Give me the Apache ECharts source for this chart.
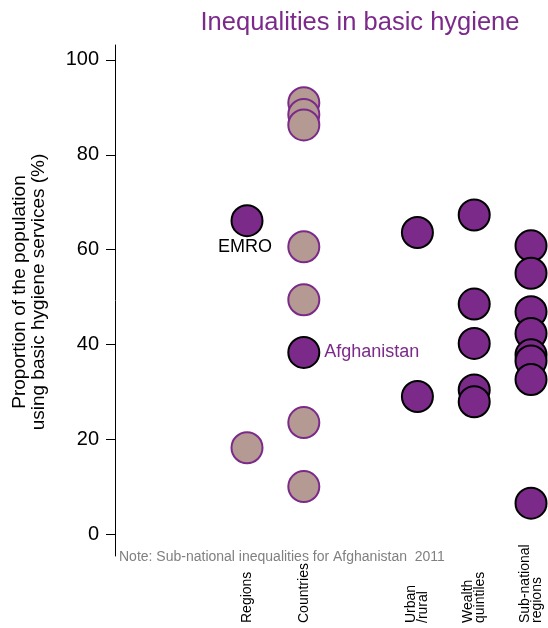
<!DOCTYPE html>
<html>
<head>
<meta charset="utf-8">
<script src="https://cdn.jsdelivr.net/npm/echarts@6/dist/echarts.min.js"></script>
<style>
html,body{margin:0;padding:0;background:#fff;}
#chart{width:548px;height:628px;}
</style>
</head>
<body>
<div id="chart"></div>
<script>
// ---- data ----
const categoryLabels = ['Regions', 'Countries', 'Urban\n/rural', 'Wealth\nquintiles', 'Sub-national\nregions'];
const categorySlots = [3, 4, 6, 7, 8];
const yTickValues = [0, 20, 40, 60, 80, 100];

const regionName = 'EMRO';
const regionValue = 66.1;
const otherRegionValues = [18.2];

const countryName = 'Afghanistan';
const countryValue = 38.3;
const otherCountryValues = [91.0, 88.5, 86.3, 60.6, 49.4, 23.5, 10.0];

const urbanRuralValues = [63.6, 29.0];
const wealthValues = [67.3, 48.5, 40.2, 30.4, 27.9];
const subnationalValues = [60.8, 55.0, 46.9, 42.3, 37.8, 36.5, 32.6, 6.5];

const titleText = 'Inequalities in basic hygiene';
const yAxisTitle = 'Proportion of the population\nusing basic hygiene services (%)';
const noteText = 'Note: Sub-national inequalities for Afghanistan  2011';

// ---- styles ----
const PURPLE = '#7B2A8A';
const TAN = '#B49A92';
const FONT = 'Liberation Sans, Arial, sans-serif';

const purpleStyle = { color: PURPLE, borderColor: '#000', borderWidth: 2, opacity: 1 };
const tanStyle = { color: TAN, borderColor: PURPLE, borderWidth: 2, opacity: 1 };

function pts(slotIdx, vals) { return vals.map(v => [categorySlots[slotIdx], v]); }

const chart = echarts.init(document.getElementById('chart'), null, { renderer: 'canvas' });

const option = {
  animation: false,
  backgroundColor: '#fff',
  textStyle: { fontFamily: FONT },
  grid: { left: 115, right: 0, top: 45, bottom: 72, containLabel: false },
  xAxis: {
    type: 'value',
    min: 0.676,
    max: 8.299,
    axisLine: { show: false },
    axisTick: { show: false },
    splitLine: { show: false },
    axisLabel: {
      customValues: categorySlots,
      formatter: function (v) {
        const i = categorySlots.indexOf(v);
        return i >= 0 ? categoryLabels[i] : '';
      },
      rotate: 90,
      align: 'left',
      verticalAlign: 'middle',
      margin: 67,
      fontSize: 14,
      lineHeight: 12,
      color: '#000',
      fontFamily: FONT
    }
  },
  yAxis: {
    type: 'value',
    min: -4.64,
    max: 103.16,
    splitLine: { show: false },
    axisLine: { show: true, lineStyle: { color: '#000', width: 1 } },
    axisTick: { show: true, customValues: yTickValues, length: 9, lineStyle: { color: '#000', width: 1 } },
    axisLabel: { customValues: yTickValues, fontSize: 20, color: '#000', margin: 16, fontFamily: FONT }
  },
  graphic: [
    {
      type: 'text', x: 360, y: 23,
      style: { text: titleText, font: '25.5px ' + FONT, fill: PURPLE, textAlign: 'center', textVerticalAlign: 'middle' }
    },
    {
      type: 'text', x: 29, y: 292, rotation: Math.PI / 2,
      style: { text: yAxisTitle, font: '19px ' + FONT, lineHeight: 19, fill: '#000', textAlign: 'center', textVerticalAlign: 'middle' }
    },
    {
      type: 'text', x: 119, y: 557,
      style: { text: noteText, font: '14px ' + FONT, fill: '#808080', textAlign: 'left', textVerticalAlign: 'middle' }
    }
  ],
  series: [
    {
      type: 'scatter', name: 'Other regions', symbolSize: 31, clip: false,
      itemStyle: tanStyle, data: pts(0, otherRegionValues), z: 2
    },
    {
      type: 'scatter', name: 'Other countries', symbolSize: 31, clip: false,
      itemStyle: tanStyle, data: pts(1, otherCountryValues), z: 2
    },
    {
      type: 'scatter', name: regionName, symbolSize: 31, clip: false,
      itemStyle: purpleStyle, data: pts(0, [regionValue]), z: 3,
      label: { show: true, formatter: regionName, position: 'bottom', distance: 1, offset: [-2, 0], color: '#000', fontSize: 18, fontFamily: FONT }
    },
    {
      type: 'scatter', name: countryName, symbolSize: 31, clip: false,
      itemStyle: purpleStyle, data: pts(1, [countryValue]), z: 3,
      label: { show: true, formatter: countryName, position: 'right', distance: 4, color: PURPLE, fontSize: 18, fontFamily: FONT }
    },
    {
      type: 'scatter', name: 'Urban/rural', symbolSize: 31, clip: false,
      itemStyle: purpleStyle, data: pts(2, urbanRuralValues), z: 3
    },
    {
      type: 'scatter', name: 'Wealth quintiles', symbolSize: 31, clip: false,
      itemStyle: purpleStyle, data: pts(3, wealthValues), z: 3
    },
    {
      type: 'scatter', name: 'Sub-national regions', symbolSize: 31, clip: false,
      itemStyle: purpleStyle, data: pts(4, subnationalValues), z: 3
    }
  ]
};
chart.setOption(option);
</script>
</body>
</html>
